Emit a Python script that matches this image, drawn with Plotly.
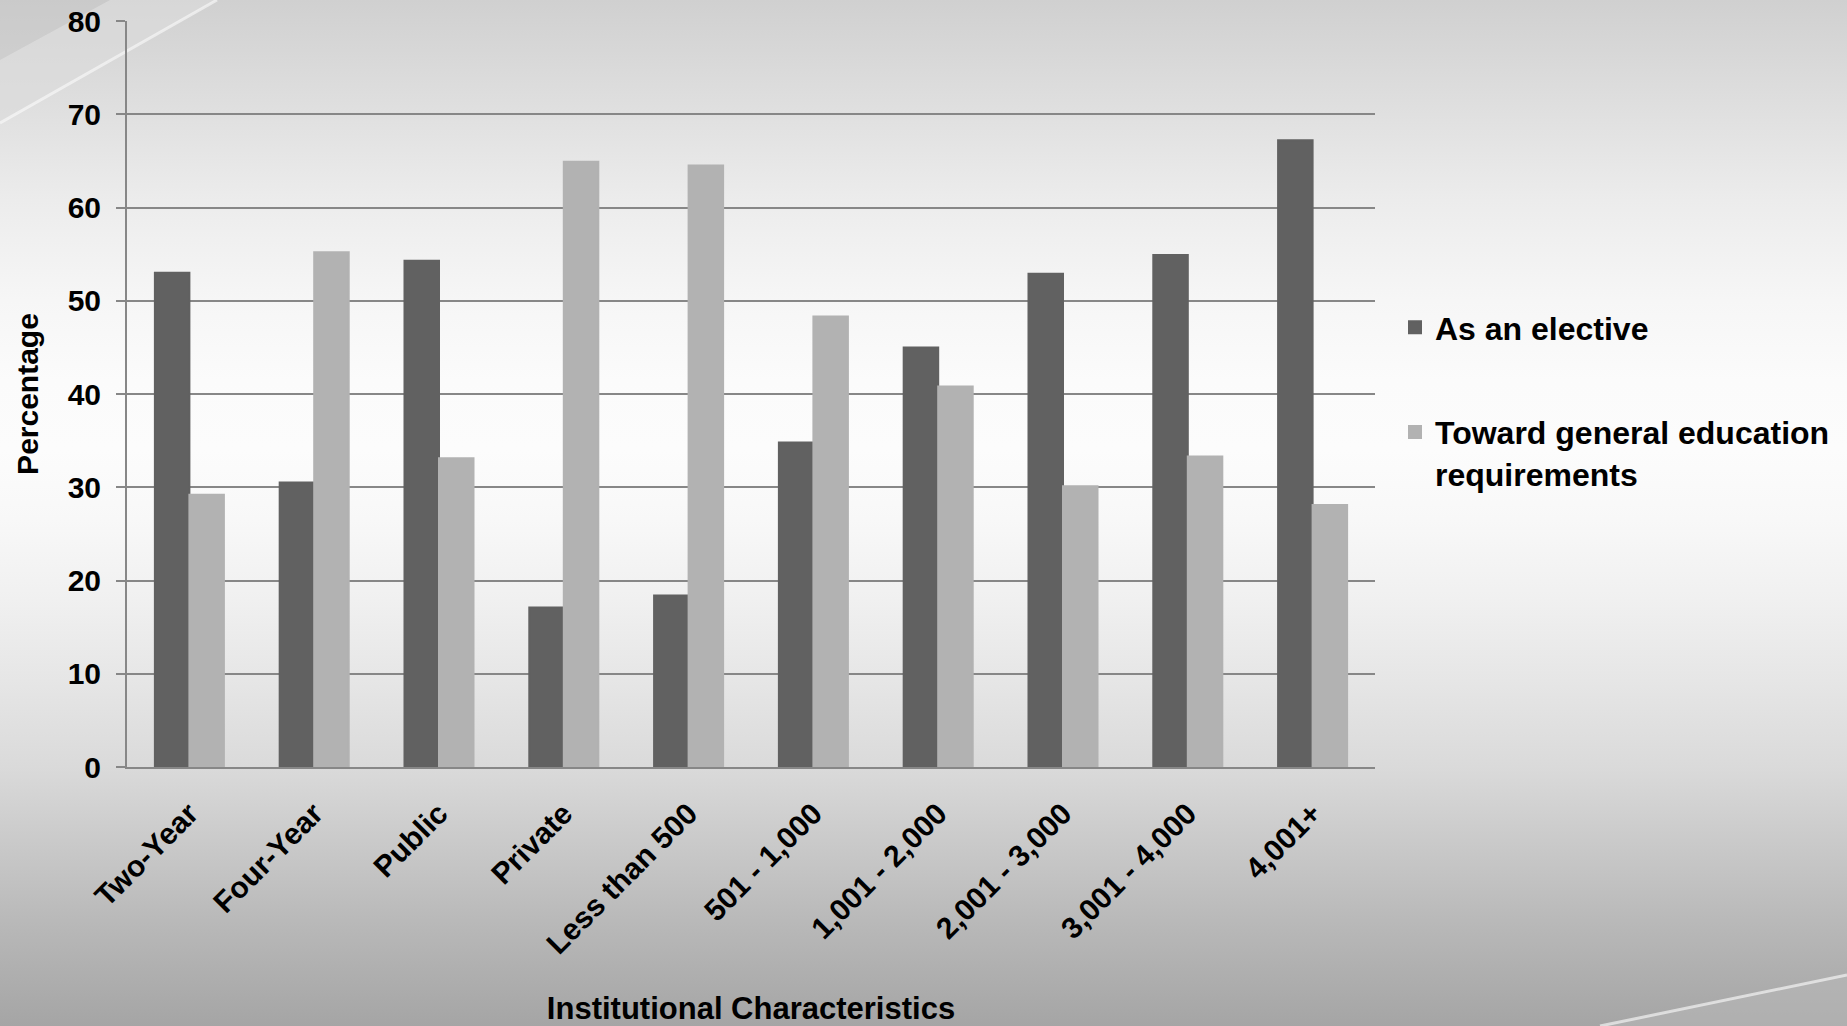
import base64
import plotly.graph_objects as go

# Share of institutions offering the course, by institutional characteristic
categories = ["Two-Year", "Four-Year", "Public", "Private", "Less than 500",
              "501 - 1,000", "1,001 - 2,000", "2,001 - 3,000", "3,001 - 4,000", "4,001+"]
as_elective = [53.0, 30.5, 54.3, 17.1, 18.4, 34.8, 45.0, 52.9, 54.9, 67.2]
toward_gen_ed = [29.2, 55.2, 33.1, 64.9, 64.5, 48.3, 40.8, 30.1, 33.3, 28.1]
series_names = ["As an elective", "Toward general education<br>requirements"]
y_ticks = [0, 10, 20, 30, 40, 50, 60, 70, 80]

W, H = 1847, 1026
ML, MR, MT, MB = 127, 472, 21, 259
PW, PH = W - ML - MR, H - MT - MB

FONT = "Liberation Sans, Arial, Helvetica, sans-serif"
DARK = "#616161"
LIGHT = "#b2b2b2"
GRID = "#878787"

# Slide-style grey background: vertical gradient plus two faint diagonal sweeps
grad = [(0, 208), (100, 222), (200, 236), (300, 246), (380, 251), (450, 252),
        (520, 248), (600, 240), (680, 230), (767, 218), (850, 200), (930, 183), (1026, 165)]
stops = "".join(
    f'<stop offset="{py / H:.4f}" stop-color="rgb({g},{g},{g})"/>' for py, g in grad
)
svg = f'''<svg xmlns="http://www.w3.org/2000/svg" width="{W}" height="{H}" viewBox="0 0 {W} {H}" preserveAspectRatio="none">
<defs><linearGradient id="bg" x1="0" y1="0" x2="0" y2="1">{stops}</linearGradient></defs>
<rect x="0" y="0" width="{W}" height="{H}" fill="url(#bg)"/>
<polygon points="0,0 217,0 0,123" fill="rgb(196,196,196)" fill-opacity="0.45"/>
<polygon points="0,60 110,0 217,0 0,123" fill="rgb(240,240,240)" fill-opacity="0.35"/>
<line x1="0" y1="123" x2="217" y2="0" stroke="white" stroke-opacity="0.55" stroke-width="3"/>
<polygon points="1600,1026 1847,975 1847,1026" fill="rgb(185,185,185)" fill-opacity="0.5"/>
<line x1="1600" y1="1026" x2="1847" y2="975" stroke="white" stroke-opacity="0.6" stroke-width="3"/>
</svg>'''
bg_src = "data:image/svg+xml;base64," + base64.b64encode(svg.encode()).decode()

fig = go.Figure()
fig.add_trace(go.Bar(
    x=categories, y=as_elective, name=series_names[0], legendgroup="a",
    marker=dict(color=DARK, line=dict(width=2, color=DARK)),
))
fig.add_trace(go.Bar(
    x=categories, y=toward_gen_ed, name=series_names[1], legendgroup="b",
    marker=dict(color=LIGHT, line=dict(width=2, color=LIGHT)),
))

fig.update_layout(
    width=W, height=H, autosize=False,
    margin=dict(l=ML, r=MR, t=MT, b=MB, pad=0, autoexpand=False),
    paper_bgcolor="rgba(0,0,0,0)",
    plot_bgcolor="rgba(0,0,0,0)",
    barmode="group", bargap=0.447, bargroupgap=0,
    font=dict(family=FONT, size=30, color="black"),
    images=[dict(
        source=bg_src, xref="paper", yref="paper",
        x=-ML / PW, y=(PH + MT) / PH, sizex=W / PW, sizey=H / PH,
        xanchor="left", yanchor="top", sizing="stretch", layer="below",
    )],
    legend=dict(
        x=(1395 - ML) / PW, xanchor="left",
        y=(H - MB - 300) / PH, yanchor="top",
        font=dict(family=FONT, size=32, color="black", weight="bold"),
        bgcolor="rgba(0,0,0,0)", traceorder="grouped", tracegroupgap=60,
        valign="top", itemwidth=30,
    ),
    showlegend=True,
)

fig.update_xaxes(
    tickangle=-45, ticks="", showgrid=False, automargin=False,
    showline=True, linecolor=GRID, linewidth=2,
    tickfont=dict(family=FONT, size=30, color="black", weight="bold"),
    ticklabelstandoff=15,
    title=dict(text="Institutional Characteristics",
               font=dict(family=FONT, size=31, color="black", weight="bold"),
               standoff=56),
)
fig.update_yaxes(
    range=[0, 80], tickvals=y_ticks, ticktext=[str(v) for v in y_ticks],
    ticks="outside", ticklen=9, tickwidth=2, tickcolor=GRID, automargin=False,
    showgrid=True, gridcolor=GRID, gridwidth=2,
    showline=True, linecolor=GRID, linewidth=2,
    zeroline=False,
    tickfont=dict(family=FONT, size=30, color="black", weight="bold"),
    ticklabelstandoff=9,
    title=dict(text="Percentage",
               font=dict(family=FONT, size=30, color="black", weight="bold"),
               standoff=20),
)

fig.write_html("out.html", post_script="document.body.style.margin='0';")
